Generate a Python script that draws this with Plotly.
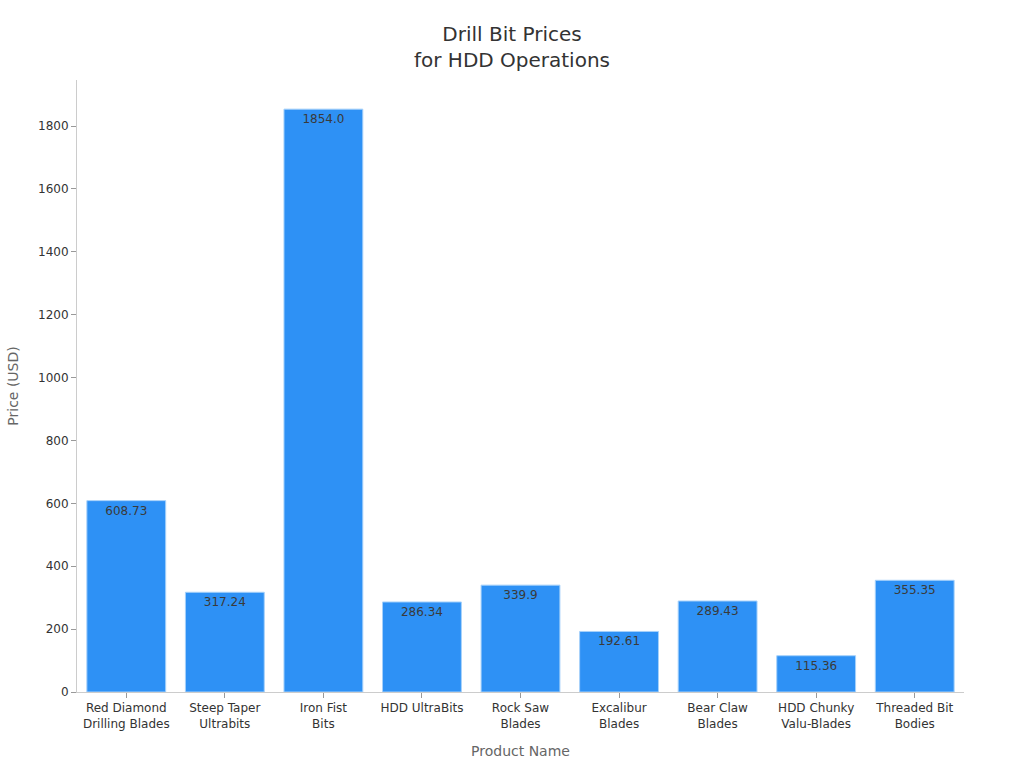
import plotly.graph_objects as go

categories = ["Red Diamond<br>Drilling Blades", "Steep Taper<br>Ultrabits", "Iron Fist<br>Bits",
              "HDD UltraBits", "Rock Saw<br>Blades", "Excalibur<br>Blades", "Bear Claw<br>Blades",
              "HDD Chunky<br>Valu-Blades", "Threaded Bit<br>Bodies"]
prices = [608.73, 317.24, 1854.0, 286.34, 339.9, 192.61, 289.43, 115.36, 355.35]
labels = ["608.73", "317.24", "1854.0", "286.34", "339.9", "192.61", "289.43", "115.36", "355.35"]

fig = go.Figure(go.Bar(
    x=categories, y=prices, text=labels, textposition="inside", insidetextanchor="end",
    textfont=dict(color="#3a3a3a", size=12, family="DejaVu Sans"),
    marker=dict(color="#2E91F5", line=dict(color="#A6D1FA", width=1)),
    cliponaxis=False,
))
fig.update_layout(
    width=1024, height=768,
    margin=dict(l=77, r=60, t=80, b=76),
    paper_bgcolor="white", plot_bgcolor="white",
    font=dict(family="DejaVu Sans", color="#333333", size=12),
    title=dict(text="Drill Bit Prices<br>for HDD Operations", x=0.5, xanchor="center",
               y=0.946, yanchor="top", font=dict(size=20, color="#333333")),
    bargap=0.2,
    showlegend=False,
)
fig.update_xaxes(title=dict(text="Product Name", font=dict(size=14, color="#666666"), standoff=16),
                 showline=True, linecolor="#cccccc", ticks="outside", ticklen=5, tickcolor="#999999",
                 tickfont=dict(size=12, color="#333333"), showgrid=False)
fig.update_yaxes(title=dict(text="Price (USD)", font=dict(size=14, color="#666666"), standoff=16),
                 range=[0, 1946.7], showline=True, linecolor="#cccccc", ticks="outside", ticklen=5,
                 tickcolor="#999999", tickfont=dict(size=12, color="#333333"), showgrid=False,
                 dtick=200, zeroline=False)
fig.write_html("out.html")
